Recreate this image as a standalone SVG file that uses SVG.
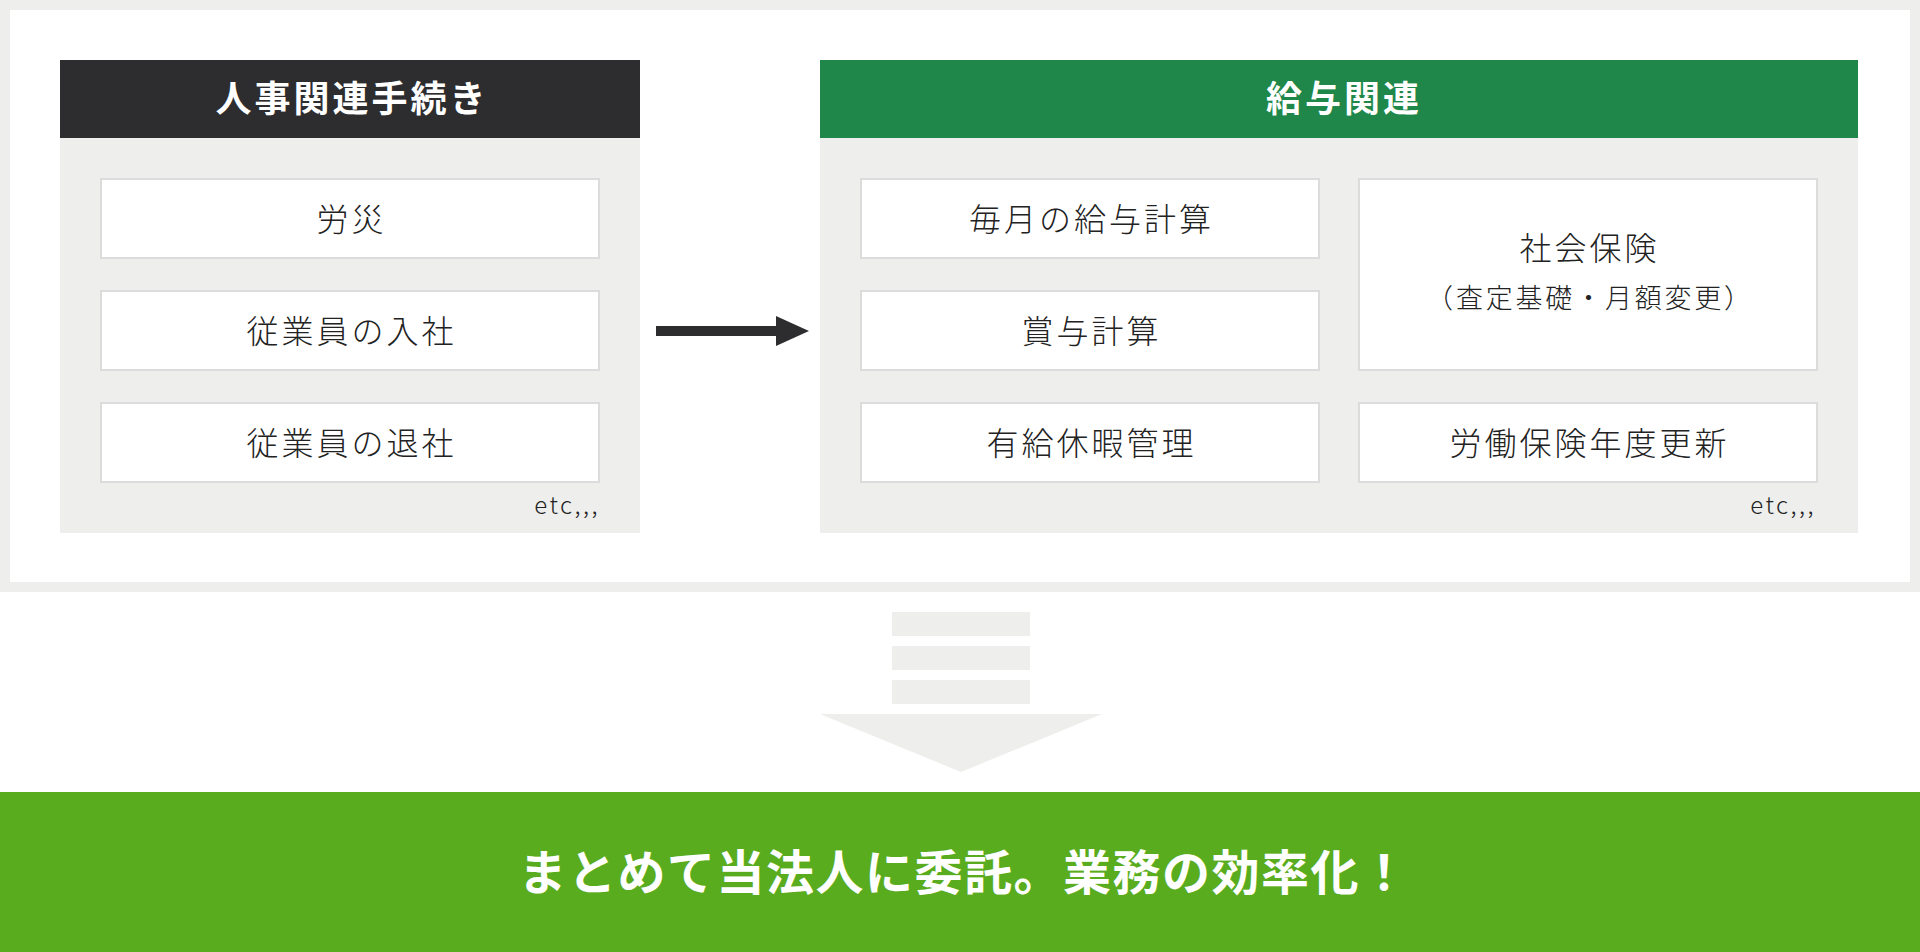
<svg xmlns="http://www.w3.org/2000/svg" width="1920" height="952" viewBox="0 0 1920 952">
<style>
.frame{fill:#eeeeec}
.panel{fill:#ffffff}
.body{fill:#eeeeec}
.item{fill:#ffffff;stroke:#dcdcdc;stroke-width:2}
.it{font-family:"Noto Sans CJK JP","Noto Sans",sans-serif;font-size:32px;font-weight:300;fill:#222222;text-anchor:middle;letter-spacing:3px}
.it2{font-family:"Noto Sans CJK JP","Noto Sans",sans-serif;font-size:27px;font-weight:300;fill:#222222;text-anchor:middle;letter-spacing:2.8px}
.hd{font-family:"Noto Sans CJK JP","Noto Sans",sans-serif;font-size:36px;font-weight:700;fill:#ffffff;text-anchor:middle;letter-spacing:3px}
.etc{font-family:"Noto Sans CJK JP","Noto Sans",sans-serif;font-size:24px;font-weight:300;fill:#222222;text-anchor:end;letter-spacing:2.5px}
.big{font-family:"Noto Sans CJK JP","Noto Sans",sans-serif;font-size:48px;font-weight:700;fill:#ffffff;text-anchor:middle;letter-spacing:1.5px}
</style>
<rect class="frame" x="0" y="0" width="1920" height="592"/>
<rect class="panel" x="10" y="10" width="1900" height="572"/>

<g id="hr-group">
  <rect x="60" y="60" width="580" height="78" fill="#2d2d2f"/>
  <text class="hd" x="352" y="112">人事関連手続き</text>
  <rect class="body" x="60" y="138" width="580" height="395"/>
  <g id="hr-item-1"><rect class="item" x="101" y="179" width="498" height="79"/><text class="it" x="351.5" y="231">労災</text></g>
  <g id="hr-item-2"><rect class="item" x="101" y="291" width="498" height="79"/><text class="it" x="351.5" y="343">従業員の入社</text></g>
  <g id="hr-item-3"><rect class="item" x="101" y="403" width="498" height="79"/><text class="it" x="351.5" y="455">従業員の退社</text></g>
  <text class="etc" x="600" y="514">etc,,,</text>
</g>

<g id="connectors">
  <rect x="656" y="326" width="121" height="10" fill="#2d2d2f"/>
  <polygon points="776,316 809,331 776,346" fill="#2d2d2f"/>
</g>

<g id="payroll-group">
  <rect x="820" y="60" width="1038" height="78" fill="#1f8749"/>
  <text class="hd" x="1344" y="112">給与関連</text>
  <rect class="body" x="820" y="138" width="1038" height="395"/>
  <g id="pay-item-1"><rect class="item" x="861" y="179" width="458" height="79"/><text class="it" x="1091.5" y="231">毎月の給与計算</text></g>
  <g id="pay-item-2"><rect class="item" x="861" y="291" width="458" height="79"/><text class="it" x="1091.5" y="343">賞与計算</text></g>
  <g id="pay-item-3"><rect class="item" x="861" y="403" width="458" height="79"/><text class="it" x="1091.5" y="455">有給休暇管理</text></g>
  <g id="pay-item-4"><rect class="item" x="1359" y="179" width="458" height="191"/><text class="it" x="1589.5" y="260">社会保険</text><text class="it2" x="1590" y="308">（査定基礎・月額変更）</text></g>
  <g id="pay-item-5"><rect class="item" x="1359" y="403" width="458" height="79"/><text class="it" x="1589.5" y="455">労働保険年度更新</text></g>
  <text class="etc" x="1816" y="514">etc,,,</text>
</g>

<g id="down-arrow" fill="#eeeeec">
  <rect x="892" y="612" width="138" height="24"/>
  <rect x="892" y="646" width="138" height="24"/>
  <rect x="892" y="680" width="138" height="24"/>
  <polygon points="820,714 1102,714 961,772"/>
</g>

<g id="result">
  <rect x="0" y="792" width="1920" height="160" fill="#5aac1f"/>
  <text class="big" x="964" y="890">まとめて当法人に委託。業務の効率化！</text>
</g>
</svg>
